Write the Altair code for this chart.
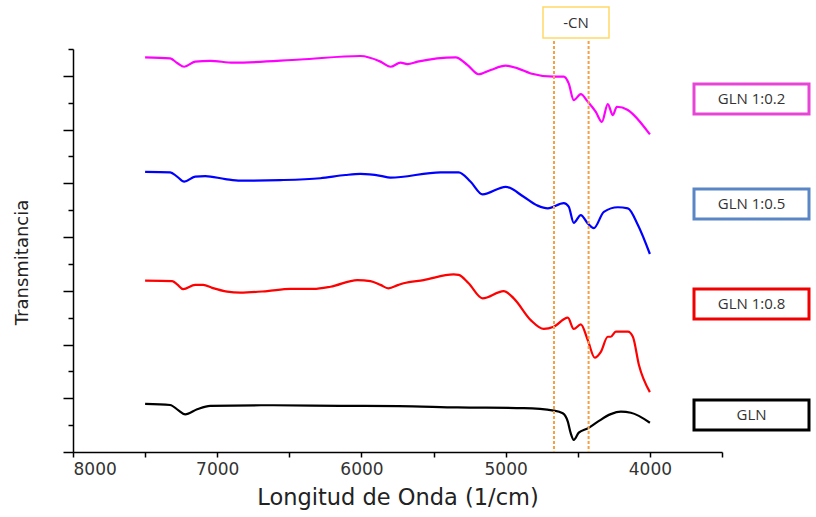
import altair as alt
import pandas as pd

# FTIR spectra: wavenumber (1/cm) and offset transmittance (arbitrary units)
names = ["GLN 1:0.2", "GLN 1:0.5", "GLN 1:0.8", "GLN"]
colors = ["#FF00FF", "#0000FF", "#FF0000", "#000000"]

wn_02 = [7500, 7326, 7278, 7229, 7153, 7049, 6889, 6424, 6007, 5868, 5799, 5729,
         5681, 5611, 5347, 5264, 5188, 5104, 5000, 4917, 4826, 4667, 4597, 4563,
         4528, 4479, 4431, 4375, 4333, 4292, 4257, 4229, 4153, 4111, 4000]
t_02 = [14.69, 14.65, 14.48, 14.34, 14.53, 14.56, 14.49, 14.61, 14.74, 14.53, 14.34, 14.49,
        14.44, 14.53, 14.69, 14.40, 14.06, 14.22, 14.38, 14.28, 14.09, 13.97, 13.97, 13.72,
        13.10, 13.32, 13.04, 12.66, 12.29, 12.95, 12.54, 12.85, 12.73, 12.54, 11.82]

wn_05 = [7500, 7326, 7278, 7229, 7153, 7083, 6944, 6840, 6563, 6285, 6111, 6007,
         5868, 5799, 5451, 5326, 5243, 5160, 5000, 4875, 4778, 4708, 4597, 4563,
         4528, 4479, 4431, 4389, 4319, 4222, 4153, 4083, 4000]
t_05 = [10.43, 10.41, 10.25, 10.06, 10.25, 10.27, 10.16, 10.10, 10.12, 10.19, 10.31, 10.35,
        10.28, 10.21, 10.41, 10.41, 10.06, 9.59, 9.87, 9.50, 9.17, 9.07, 9.26, 9.13,
        8.53, 8.82, 8.51, 8.33, 8.94, 9.11, 9.07, 8.45, 7.37]

wn_08 = [7500, 7313, 7278, 7236, 7153, 7097, 7035, 6931, 6840, 6653, 6493, 6333,
         6215, 6028, 5938, 5868, 5813, 5743, 5708, 5569, 5361, 5326, 5257, 5160,
         5014, 4944, 4826, 4736, 4667, 4569, 4528, 4479, 4431, 4382, 4340, 4292,
         4271, 4236, 4153, 4118, 4076, 4000]
t_08 = [6.38, 6.36, 6.24, 6.06, 6.22, 6.22, 6.11, 5.97, 5.93, 5.99, 6.07, 6.07,
        6.15, 6.40, 6.36, 6.22, 6.09, 6.22, 6.28, 6.40, 6.61, 6.59, 6.28, 5.72,
        5.99, 5.72, 4.91, 4.58, 4.66, 5.00, 4.58, 4.75, 4.17, 3.51, 3.73, 4.29,
        4.29, 4.48, 4.48, 4.29, 3.24, 2.23]

wn_gln = [7500, 7326, 7271, 7222, 7139, 7049, 6611, 6146, 5743, 5333, 4875, 4667,
          4604, 4569, 4549, 4528, 4493, 4431, 4361, 4271, 4201, 4132, 4000]
t_gln = [1.79, 1.75, 1.56, 1.40, 1.59, 1.72, 1.74, 1.72, 1.71, 1.66, 1.63, 1.54,
         1.44, 1.13, 0.70, 0.45, 0.72, 0.88, 1.13, 1.41, 1.50, 1.46, 1.09]

# -CN band limits (1/cm)
cn_band = [4665, 4425]

x_ticks = list(range(8000, 3499, -500))
y_ticks = list(range(0, 16))

series = [(names[0], wn_02, t_02), (names[1], wn_05, t_05),
          (names[2], wn_08, t_08), (names[3], wn_gln, t_gln)]
spectra = pd.DataFrame(
    [{"serie": n, "wn": w, "t": t} for n, ws, ts in series for w, t in zip(ws, ts)]
)

W, H = 649, 403
FONT = "DejaVu Sans"

x_scale = alt.Scale(domain=[8000, 3500], nice=False, zero=False)
y_scale = alt.Scale(domain=[0, 15], nice=False, zero=False)

x_axis = alt.Axis(
    values=x_ticks,
    labelExpr="datum.value % 1000 === 0 ? format(datum.value, 'd') : ''",
    grid=False, tickSize=5, tickColor="#000", tickWidth=1.5,
    domainColor="#000", domainWidth=1.5,
    labelFont=FONT, labelFontSize=17, labelColor="#333", labelPadding=4,
    title="Longitud de Onda (1/cm)", titleFont=FONT, titleFontSize=22.5,
    titleFontWeight="normal", titleColor="#222",
    titleY=45, titleBaseline="middle",
)
y_axis = alt.Axis(
    values=y_ticks, labels=False, grid=False,
    tickSize={"condition": {"test": "datum.value % 2 === 0", "value": 10}, "value": 5},
    tickColor="#000", tickWidth=1.5, domainColor="#000", domainWidth=1.5,
    title="Transmitancia", titleFont=FONT, titleFontSize=18,
    titleFontWeight="normal", titleColor="#222",
    titleX=-51, titleY=213, titleAngle=-90,
    titleAlign="center", titleBaseline="middle",
)

lines = alt.Chart(spectra).mark_line(strokeWidth=2.2, interpolate="monotone").encode(
    x=alt.X("wn:Q", scale=x_scale, axis=x_axis),
    y=alt.Y("t:Q", scale=y_scale, axis=y_axis),
    color=alt.Color("serie:N", scale=alt.Scale(domain=names, range=colors), legend=None),
    detail="serie:N",
)

band = alt.Chart(pd.DataFrame({"wn": cn_band})).mark_rule(
    color="#F4A044", strokeWidth=2, strokeDash=[3, 2]
).encode(
    x=alt.X("wn:Q", scale=x_scale),
    y=alt.value(-8),
    y2=alt.value(H),
)

# -CN label box above the band
cn_box = alt.Chart(pd.DataFrame({"k": [0]})).mark_rect(
    fill="white", stroke="#FFD966", strokeWidth=1.5
).encode(x=alt.value(470), x2=alt.value(536), y=alt.value(-42), y2=alt.value(-11))
cn_text = alt.Chart(pd.DataFrame({"label": ["-CN"]})).mark_text(
    font="Open Sans", fontSize=15, color="#333"
).encode(x=alt.value(503), y=alt.value(-26), text="label:N")

# Sample label boxes on the right (pixel layout)
legend_df = pd.DataFrame({
    "label": names,
    "col": ["#E645D6", "#5B86C6", "#F00000", "#000000"],
    "y0": [35, 140, 240, 351],
    "y1": [65, 170, 270, 381],
})
legend_df["yc"] = (legend_df["y0"] + legend_df["y1"]) / 2

boxes = alt.Chart(legend_df).mark_rect(fill="white", strokeWidth=3).encode(
    x=alt.value(621), x2=alt.value(736),
    y=alt.Y("y0:Q", scale=None), y2="y1:Q",
    stroke=alt.Stroke("col:N", scale=None),
)
labels = alt.Chart(legend_df).mark_text(
    font="Open Sans", fontSize=15, color="#333"
).encode(
    x=alt.value(678.5), y=alt.Y("yc:Q", scale=None), text="label:N"
)

chart = alt.layer(lines, band, cn_box, cn_text, boxes, labels).properties(
    width=W, height=H,
    autosize=alt.AutoSizeParams(type="none"),
    padding={"left": 73, "top": 49, "right": 94, "bottom": 65},
    background="white",
).configure_view(stroke=None)

chart.save("out.html", embed_options={"renderer": "svg", "actions": False})
